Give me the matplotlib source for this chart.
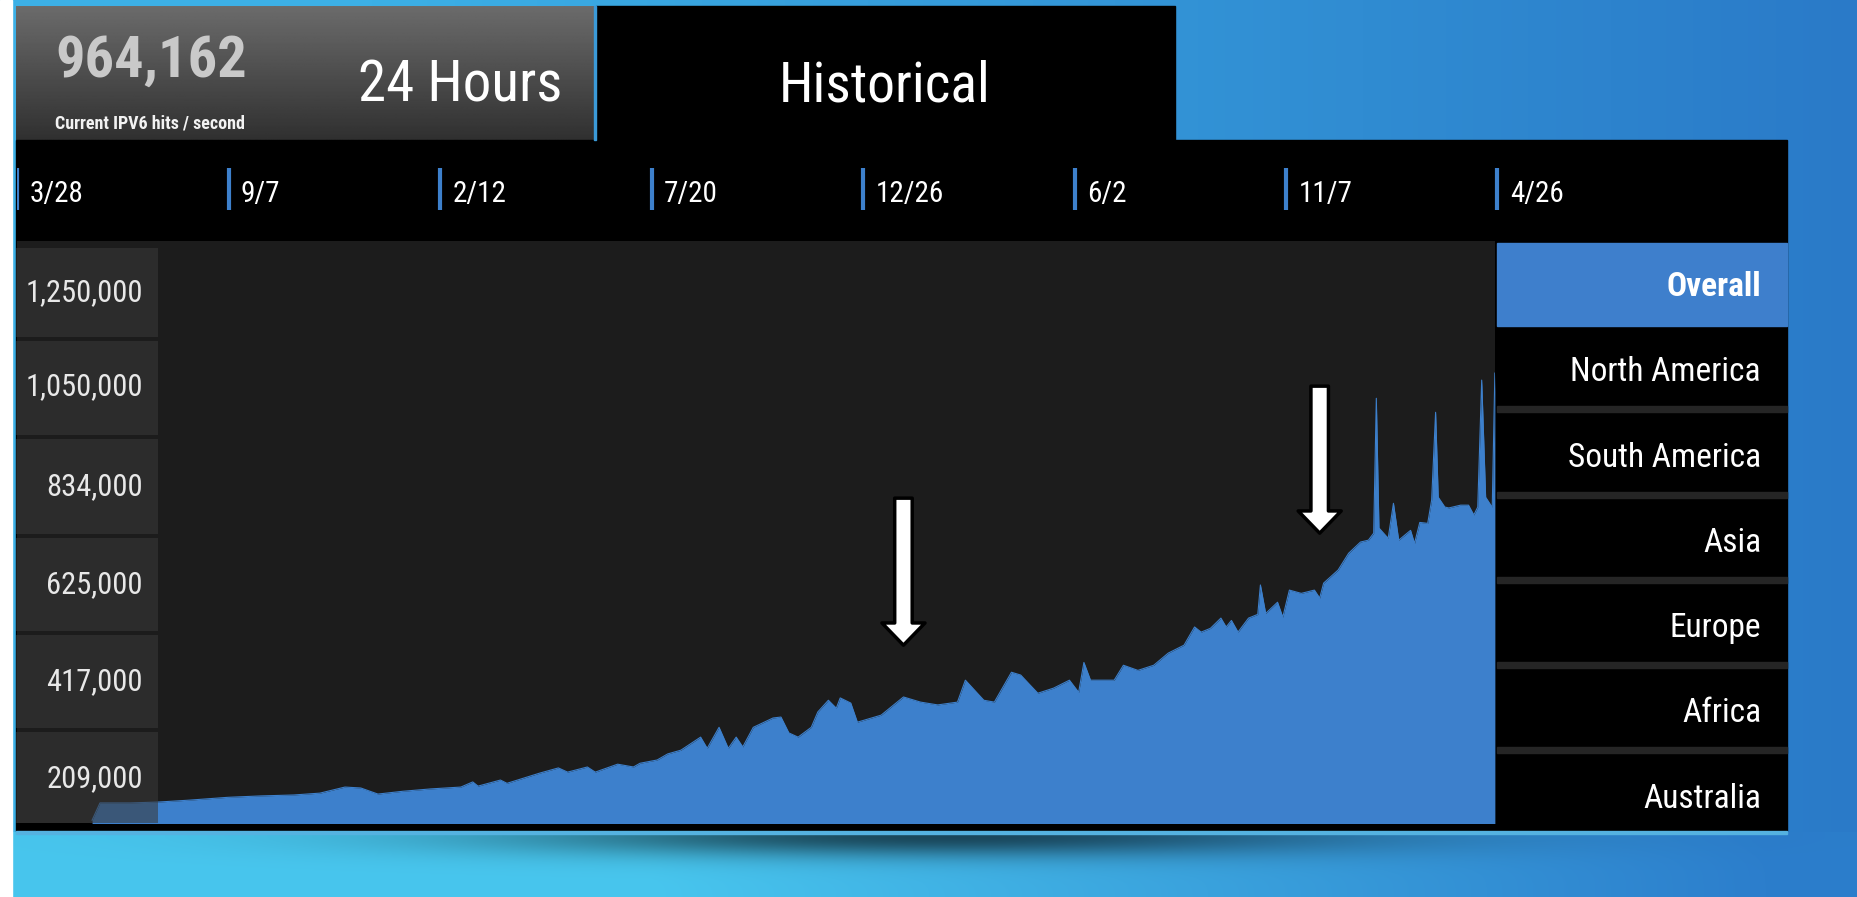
import numpy as np
import matplotlib
matplotlib.use("Agg")
import matplotlib.pyplot as plt
from matplotlib.patches import Rectangle, FancyArrowPatch, ArrowStyle
from matplotlib.transforms import blended_transform_factory

# --- data ---
# days since 3/28 (first label), IPv6 hits per second
days = [57, 63, 86, 108, 131, 160, 185, 210, 230, 249, 261, 274, 293, 314, 337,
        346, 350, 367, 372, 397, 411, 418, 433, 439, 456, 468, 473, 486, 494, 504,
        519, 524, 533, 540, 546, 551, 559, 574, 580, 586, 593, 603, 608, 616, 622,
        625, 633, 638, 656, 673, 686, 699, 714, 720, 734, 742, 755, 762, 775, 787,
        799, 806, 810, 815, 833, 840, 851, 863, 874, 886, 894, 899, 906, 914, 918,
        922, 927, 935, 942, 944, 948, 957, 961, 966, 975, 985, 989, 992, 1003, 1011,
        1020, 1026, 1030, 1032, 1034, 1041, 1045, 1049, 1058, 1061, 1065, 1071, 1074,
        1077, 1079, 1084, 1087, 1096, 1102, 1106, 1109, 1112, 1115, 1118, 1120, 1122]
hits_k = [120, 157, 157, 159, 163, 169, 172, 174, 178, 191, 189, 176, 182, 187, 191,
          202, 193, 206, 199, 221, 232, 223, 234, 223, 240, 234, 242, 249, 262, 270,
          298, 274, 319, 274, 298, 277, 319, 339, 341, 307, 298, 319, 352, 377, 360,
          382, 371, 330, 345, 384, 373, 367, 373, 420, 377, 373, 437, 431, 392, 403,
          420, 394, 458, 420, 420, 452, 441, 452, 478, 495, 534, 523, 531, 553, 534,
          548, 523, 553, 561, 624, 563, 587, 555, 613, 606, 613, 596, 628, 656, 692,
          716, 720, 735, 1024, 746, 724, 799, 720, 741, 713, 758, 756, 806,
          994, 812, 791, 789, 795, 795, 774, 791, 1063, 812, 799, 790, 1078]
hits = [v * 1000 for v in hits_k]

date_labels = ['3/28', '9/7', '2/12', '7/20', '12/26', '6/2', '11/7', '4/26']
span_days = 1124
y_labels = [1250000, 1050000, 834000, 625000, 417000, 209000]
regions = ['Overall', 'North America', 'South America', 'Asia', 'Europe', 'Africa', 'Australia']
current_hits = 964162
arrow_days = [673, 989]
arrow_hits = [495000, 735000]
arrow_len = 315000

W, H = 1858, 897
FONT = ['Roboto Condensed', 'Liberation Sans Narrow', 'Liberation Sans', 'DejaVu Sans']
plt.rcParams['font.family'] = FONT

BLUE = '#3d80cc'
px_per_day = 1480.5 / span_days

fig = plt.figure(figsize=(W / 100, H / 100), dpi=100)


def px_axes(x0, y0, x1, y1, **kw):
    return fig.add_axes([x0 / W, 1 - y1 / H, (x1 - x0) / W, (y1 - y0) / H], **kw)


# background, in pixel coordinates
bg = px_axes(0, 0, W, H, zorder=0)
bg.set_xlim(0, W)
bg.set_ylim(H, 0)
bg.axis('off')

xs = np.arange(W)[None, :] / W
ys = np.arange(H)[:, None]
top_l = np.array([60, 176, 230]) / 255
top_r = np.array([42, 122, 200]) / 255
bot_l = np.array([72, 198, 238]) / 255
bot_r = np.array([44, 126, 204]) / 255
t1 = np.clip((xs - 0.2) / 0.8, 0, 1)[..., None]
t2 = np.clip((xs - 0.35) / 0.6, 0, 1)[..., None]
upper = top_l * (1 - t1) + top_r * t1
lower = bot_l * (1 - t2) + bot_r * t2
img = np.where((ys > 831)[..., None], lower, upper)
img = np.broadcast_to(img, (H, W, 3)).copy()
shade = 0.6 * np.exp(-((np.arange(W)[None, :] - 930) / 430.0) ** 2) \
    * np.exp(-(np.clip(ys - 836, 0, None) / 20.0) ** 2) * (ys > 831)
img *= (1 - shade)[..., None]
bg.imshow(img, extent=(0, W, H, 0), aspect='auto', zorder=0)

bg.add_patch(Rectangle((0, 0), 12, H, color='white', zorder=1))
# header: gradient box + black tab
grad = np.linspace(0.42, 0.19, 100)[:, None] * np.ones((1, 2))
bg.imshow(grad, extent=(16, 595, 140, 6), cmap='gray', vmin=0, vmax=1,
          aspect='auto', zorder=1)
bg.add_patch(Rectangle((594, 6), 2, 134, color='#3b9ad8', zorder=2))
bg.add_patch(Rectangle((596, 6), 579, 135, color='black', zorder=1))
# panel frame
bg.add_patch(Rectangle((16, 140), 1771, 691, color='black', zorder=1))
bg.add_patch(Rectangle((16, 831), 1771, 3, color='#55b2e0', zorder=1))

bg.text(55, 77, f'{current_hits:,}', fontsize=42, fontweight='bold',
        color='#c9c9c9', va='baseline', zorder=3)
bg.text(55, 128, 'Current IPV6 hits / second', fontsize=13, fontweight='bold',
        color='#f2f2f2', va='baseline', zorder=3)
bg.text(358, 101, '24 Hours', fontsize=41, color='white', va='baseline', zorder=3)
bg.text(885, 101, 'Historical', fontsize=40, color='white', va='baseline',
        ha='center', zorder=3)

# region menu
bg.add_patch(Rectangle((1497, 243), 290, 83, color='#3e7fcc', zorder=2))
for i, name in enumerate(regions):
    yc = 283 + 85.3 * i
    if 1 <= i < len(regions) - 1:
        bg.add_patch(Rectangle((1497, yc + 38), 290, 6, color='#252525', zorder=2))
    bg.text(1761, yc + 13, name, fontsize=24, color='white', ha='right',
            va='baseline', fontweight='bold' if i == 0 else 'normal', zorder=3)

# date bar
axd = px_axes(17, 140, 1787, 241, zorder=1)
axd.set_facecolor('black')
axd.set_xlim(0, (1787 - 17) / px_per_day)
axd.set_ylim(0, 1)
axd.axis('off')
tick_pos = np.linspace(0, span_days, len(date_labels))
axd.vlines(tick_pos, 0.31, 0.72, color=BLUE, lw=3)
for p, lab in zip(tick_pos, date_labels):
    axd.annotate(lab, (p, 0.386), xytext=(9, 0), textcoords='offset points',
                 fontsize=21, color='white', va='baseline')

# main chart
ax = px_axes(17, 241, 1495, 823, zorder=2)
ax.set_facecolor('#1c1c1c')
ax.set_xlim(0, (1495 - 17) / px_per_day)
ax.set_ylim(114000, 1361000)
ax.fill_between(days, hits, 0, color=BLUE, lw=0)
ax.plot(days, hits, color=BLUE, lw=0.8)
for s in ax.spines.values():
    s.set_visible(False)
ax.set_xticks([])
ax.set_yticks([])

# y label cells, overlaid on the chart
blend = blended_transform_factory(bg.transData, ax.transData)
yl = np.array(y_labels, dtype=float)
bounds = np.concatenate([[yl[0] + (yl[0] - yl[1]) / 2], (yl[:-1] + yl[1:]) / 2,
                         [ax.get_ylim()[0]]])
gap = 4300
for i, v in enumerate(y_labels):
    top = bounds[i] - gap
    bot = bounds[i + 1] + (gap if i < len(y_labels) - 1 else 0)
    ax.add_patch(Rectangle((16, bot), 142, top - bot, transform=blend,
                           facecolor='#393939', alpha=0.57, lw=0,
                           zorder=5, clip_on=False))
    ax.text(143, v, f'{v:,}', transform=blend, ha='right', va='center',
            fontsize=22, color='#e8e8e8', zorder=6)

# arrows
for d, v in zip(arrow_days, arrow_hits):
    arr = FancyArrowPatch((d, v + arrow_len), (d, v),
                          arrowstyle=ArrowStyle.Simple(head_length=16, head_width=31,
                                                       tail_width=12.6),
                          mutation_scale=1, shrinkA=0, shrinkB=0,
                          facecolor='white', edgecolor='black', lw=2.5, zorder=7)
    ax.add_patch(arr)

fig.savefig('out.png', dpi=100)
